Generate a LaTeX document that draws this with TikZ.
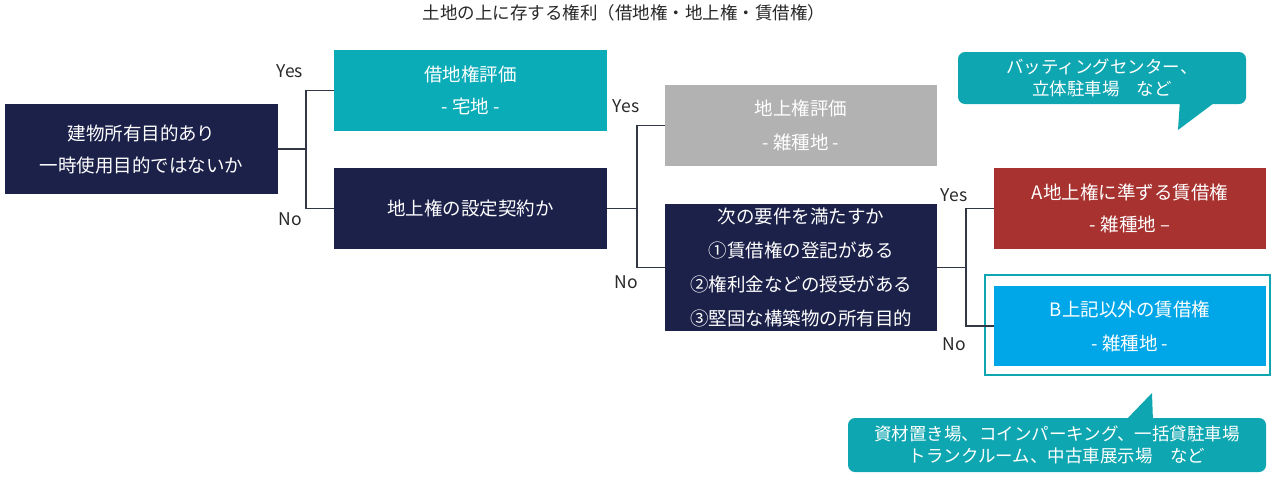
\documentclass[tikz,border=0pt]{standalone}
\usepackage{fontspec}
\setmainfont{Noto Sans CJK JP}
\definecolor{navy}{RGB}{28,33,74}
\definecolor{tealbox}{RGB}{10,172,184}
\definecolor{callout}{RGB}{14,166,176}
\definecolor{graybox}{RGB}{178,178,178}
\definecolor{redbox}{RGB}{168,50,48}
\definecolor{bluebox}{RGB}{0,167,232}
\definecolor{linec}{RGB}{50,55,70}
\definecolor{txt}{RGB}{40,40,40}
\begin{document}
\begin{tikzpicture}[x=1pt,y=-1pt,
  box/.style={inner sep=0pt, text=white, align=center, font=\fontsize{18.5}{32}\selectfont},
  lbl/.style={text=txt, font=\fontsize{17.5}{18}\selectfont, inner sep=0pt},
  conn/.style={draw=linec, line width=1.6pt},
  bubble/.style={fill=callout, rounded corners=7pt, inner sep=0pt, text=white, align=center, font=\fontsize{17.5}{21.5}\selectfont}]
\useasboundingbox (0,0) rectangle (1280,480);

\node[text=txt, font=\fontsize{17.5}{18}\selectfont] (title) at (624,13) {土地の上に存する権利（借地権・地上権・賃借権）};

\node[box, fill=navy, minimum width=273pt, minimum height=90pt] (q1) at (141.5,149) {建物所有目的あり\\一時使用目的ではないか};
\node[box, fill=tealbox, minimum width=273pt, minimum height=81pt] (lease) at (470.5,90.5) {借地権評価\\- 宅地 -};
\node[box, fill=navy, minimum width=273pt, minimum height=81pt] (q2) at (470.5,208.5) {地上権の設定契約か};
\node[box, fill=graybox, minimum width=272pt, minimum height=81pt, font=\fontsize{18.5}{34}\selectfont] (sup) at (801,125.5) {地上権評価\\- 雑種地 -};
\node[box, fill=navy, minimum width=272pt, minimum height=127pt, font=\fontsize{18.5}{34}\selectfont] (q3) at (801,267.5) {次の要件を満たすか\\①賃借権の登記がある\\②権利金などの授受がある\\③堅固な構築物の所有目的};
\node[box, fill=redbox, minimum width=272pt, minimum height=81pt] (ra) at (1130,208.5) {A地上権に準ずる賃借権\\- 雑種地 –};
\node[box, fill=bluebox, minimum width=272pt, minimum height=80pt, font=\fontsize{18.5}{34}\selectfont] (rb) at (1130,326) {B上記以外の賃借権\\- 雑種地 -};
\node[draw=callout, line width=2.5pt, minimum width=285pt, minimum height=100pt, inner sep=0pt] (rbframe) at (1127.5,325) {};

% connectors
\coordinate (j1) at (306,149);
\draw[conn] (q1.east) -- (j1);
\draw[conn] (lease.west) -| (j1) |- (q2.west);
\coordinate (j2) at (637,208.5);
\draw[conn] (q2.east) -- (j2);
\draw[conn] (sup.west) -| (j2) |- (q3.west);
\coordinate (j3) at (966,267.5);
\draw[conn] (q3.east) -- (j3);
\draw[conn] (ra.west) -| (j3) |- (rb.west);

\node[lbl] (y1) at (290,71) {Yes};
\node[lbl] (n1) at (290,219) {No};
\node[lbl] (y2) at (626,106) {Yes};
\node[lbl] (n2) at (626,282) {No};
\node[lbl] (y3) at (954,195) {Yes};
\node[lbl] (n3) at (954,344) {No};

% callouts
\fill[callout] (1180,100) -- (1178,130) -- (1218,100) -- cycle;
\node[bubble, minimum width=288pt, minimum height=52pt] (c1) at (1102,78) {バッティングセンター、\\立体駐車場\quad など};
\fill[callout] (1124,422) -- (1152,393) -- (1153,422) -- cycle;
\node[bubble, minimum width=418pt, minimum height=54pt] (c2) at (1057,445) {資材置き場、コインパーキング、一括貸駐車場\\トランクルーム、中古車展示場\quad など};
\end{tikzpicture}
\end{document}
